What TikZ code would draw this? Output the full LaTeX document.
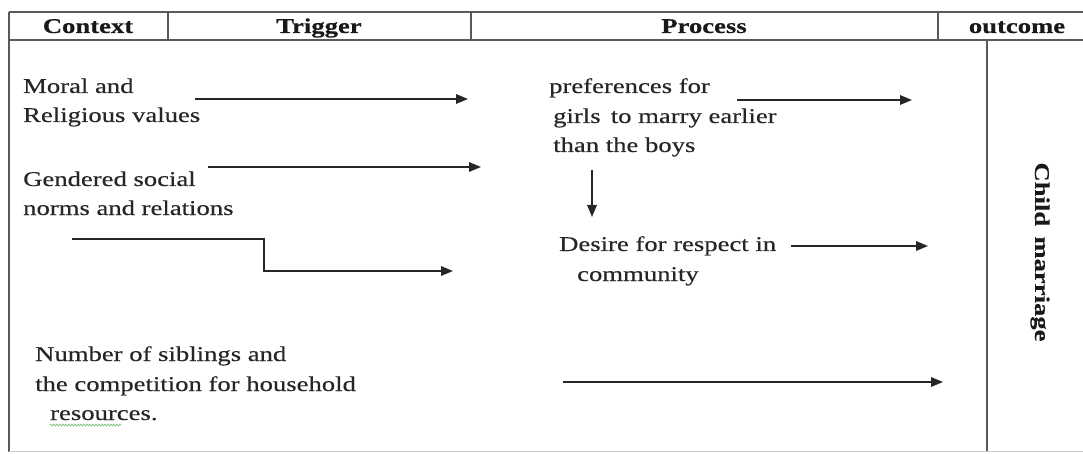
\documentclass[tikz,border=0pt]{standalone}
\usepackage{fontspec}
\setmainfont{Liberation Serif}[FakeStretch=1.27, FakeBold=0.4]
\usetikzlibrary{arrows.meta,decorations.pathmorphing}
\begin{document}
\begin{tikzpicture}[x=1pt,y=-1pt,
  grid/.style={draw=black!65, line width=1.4pt},
  conn/.style={draw=black!85, line width=1.6pt, -{Triangle[length=12pt,width=9.5pt]}},
  txt/.style={anchor=base west, inner sep=0pt, font=\fontsize{21}{25}\selectfont, text=black!85},
  head/.style={anchor=base, inner sep=0pt, font=\fontsize{21}{25}\selectfont\bfseries, text=black!90},
  squiggle/.style={draw=green!55!black!50, line width=0.8pt, decorate, decoration={snake, segment length=3pt, amplitude=0.9pt}}
]
\useasboundingbox (0,0) rectangle (1083,454);

% table frame
\draw[grid] (9,12) -- (1083,12);
\draw[grid] (9,40) -- (1083,40);
\draw[grid] (9,12) -- (9,452);
\draw[grid] (168,12) -- (168,40);
\draw[grid] (471,12) -- (471,40);
\draw[grid] (938,12) -- (938,40);
\draw[grid] (987,40) -- (987,452);
\draw[black!20, line width=1pt] (9,451) -- (1083,451);

% headers
\node[head] (hctx) at (88,33) {Context};
\node[head] (htrig) at (319,33) {Trigger};
\node[head] (hproc) at (704,33) {Process};
\node[head] (hout) at (1017,33) {outcome};

% context texts
\node[txt] (moral1) at (23,93) {Moral and};
\node[txt] (moral2) at (23,122) {Religious values};
\node[txt] (gend1) at (23,186) {Gendered social};
\node[txt] (gend2) at (23,215) {norms and relations};
\node[txt] (num1) at (35,361) {Number of siblings and};
\node[txt] (num2) at (35,391) {the competition for household};
\node[txt] (num3) at (50,420) {resources.};
\draw[squiggle] (50,425) -- (121,425);

% process texts
\node[txt] (pref1) at (549,93) {preferences for};
\node[txt] (pref2) at (553,123) {girls\, to marry earlier};
\node[txt] (pref3) at (553,152) {than the boys};
\node[txt] (des1) at (559,251) {Desire for respect in};
\node[txt] (des2) at (577,281) {community};

% outcome
\node[anchor=center, inner sep=0pt, rotate=-90, font=\fontsize{21}{25}\selectfont\bfseries, text=black!90] (child) at (1040,252) {Child\, marriage};

% arrow coordinates
\coordinate (a1s) at (195,99);  \coordinate (a1e) at (468,99);
\coordinate (a2s) at (208,167); \coordinate (a2e) at (481,167);
\coordinate (a3s) at (72,239);  \coordinate (a3m) at (264,239);
\coordinate (a3n) at (264,271); \coordinate (a3e) at (453,271);
\coordinate (p1s) at (737,100); \coordinate (p1e) at (912,100);
\coordinate (dns) at (592,170); \coordinate (dne) at (592,217);
\coordinate (p2s) at (791,246); \coordinate (p2e) at (928,246);
\coordinate (bts) at (563,382); \coordinate (bte) at (943,382);

\draw[conn] (a1s) -- (a1e);
\draw[conn] (a2s) -- (a2e);
\draw[conn] (a3s) -- (a3m) -- (a3n) -- (a3e);
\draw[conn] (p1s) -- (p1e);
\draw[conn] (dns) -- (dne);
\draw[conn] (p2s) -- (p2e);
\draw[conn] (bts) -- (bte);
\end{tikzpicture}
\end{document}
